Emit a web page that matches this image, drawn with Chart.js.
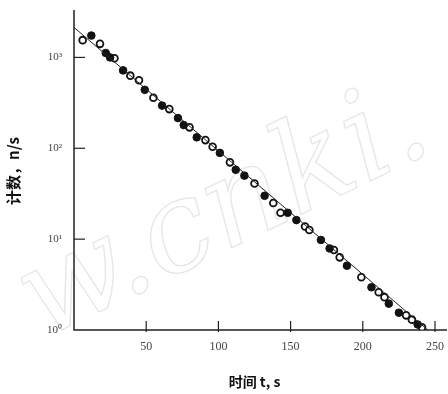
<!DOCTYPE html>
<html>
<head>
<meta charset="utf-8">
<script src="https://cdn.jsdelivr.net/npm/chart.js@4/dist/chart.umd.min.js"></script>
<style>
  html, body { margin: 0; padding: 0; background: #fff; }
  #wrap { width: 448px; height: 394px; }
</style>
</head>
<body>
<div id="wrap"><canvas id="myChart" width="448" height="394"></canvas></div>
<script>
// time (s) and count rate (n/s)
const timeFilled = [12, 22, 25, 34, 49, 61, 72, 76, 85, 101, 112, 118, 132, 148, 154, 171, 177, 189, 206, 218, 225, 238];
const countFilled = [1740, 1120, 1000, 720, 440, 295, 215, 180, 132, 89, 58, 50, 30, 19.5, 16.2, 9.8, 7.9, 5.1, 2.95, 1.95, 1.55, 1.15];

const timeOpen = [6, 18, 28, 39, 45, 55, 66, 80, 91, 96, 108, 125, 138, 143, 160, 163, 180, 184, 199, 211, 215, 230, 234, 241];
const countOpen = [1550, 1410, 980, 630, 560, 360, 270, 170, 123, 104, 70, 41, 25, 19.5, 13.8, 12.6, 7.6, 6.3, 3.8, 2.6, 2.3, 1.45, 1.3, 1.07];

// fitted line end points
const fitTime = [0, 245];
const fitCount = [2140, 1];

const yTicks = [1, 10, 100, 1000];
const yTickLabels = ['10⁰', '10¹', '10²', '10³'];
const xTicks = [50, 100, 150, 200, 250];

const toPts = (xs, ys) => xs.map((x, i) => ({ x: x, y: ys[i] }));

// inward tick marks + faint watermark
const decor = {
  id: 'decor',
  beforeDatasetsDraw(chart) {
    const c = chart.ctx;
    const a = chart.chartArea;
    c.save();
    c.translate(225, 215);
    c.rotate(-0.45);
    c.font = 'italic 125px "DejaVu Serif"';
    c.strokeStyle = 'rgba(205,205,205,0.5)';
    c.lineWidth = 1.3;
    c.textAlign = 'center';
    c.textBaseline = 'middle';
    c.strokeText('w.cnki.', 0, 0);
    c.restore();

    c.save();
    c.strokeStyle = '#222';
    c.lineWidth = 1.2;
    const xs = chart.scales.x, ys = chart.scales.y;
    xTicks.forEach(v => {
      const px = xs.getPixelForValue(v);
      c.beginPath(); c.moveTo(px, a.bottom + 2); c.lineTo(px, a.bottom - 9); c.stroke();
    });
    yTicks.slice(1).forEach(v => {
      const py = ys.getPixelForValue(v);
      c.beginPath(); c.moveTo(a.left, py); c.lineTo(a.left + 11, py); c.stroke();
    });
    // axis lines
    c.lineWidth = 1.5;
    c.beginPath();
    c.moveTo(a.left, a.top - 2); c.lineTo(a.left, a.bottom);
    c.lineTo(a.right + 12, a.bottom);
    c.stroke();
    c.restore();
  }
};

const ctx = document.getElementById('myChart').getContext('2d');
const myChart = new Chart(ctx, {
  type: 'scatter',
  data: {
    datasets: [
      {
        label: 'fit',
        type: 'line',
        data: toPts(fitTime, fitCount),
        borderColor: '#222',
        borderWidth: 1,
        pointRadius: 0,
      },
      {
        label: 'filled',
        data: toPts(timeFilled, countFilled),
        backgroundColor: '#111',
        borderColor: '#111',
        pointRadius: 3.8,
      },
      {
        label: 'open',
        data: toPts(timeOpen, countOpen),
        backgroundColor: '#fff',
        borderColor: '#111',
        borderWidth: 1.8,
        pointRadius: 3.4,
      },
    ],
  },
  options: {
    responsive: false,
    animation: false,
    layout: { padding: { top: 12, right: 13, left: 0, bottom: 0 } },
    plugins: { legend: { display: false }, tooltip: { enabled: false } },
    scales: {
      x: {
        type: 'linear',
        min: 0,
        max: 250,
        border: { display: false },
        grid: { display: false },
        afterBuildTicks: s => { s.ticks = xTicks.map(v => ({ value: v })); },
        afterFit: s => { s.height = 64; },
        ticks: {
          color: '#444',
          padding: 2,
          font: { family: '"Liberation Serif", serif', size: 12 },
        },
        title: {
          display: true,
          text: '时间 t, s',
          color: '#111',
          padding: { top: 16 },
          font: { family: '"Noto Sans CJK SC", serif', size: 14, weight: 'bold' },
        },
      },
      y: {
        type: 'logarithmic',
        min: 1,
        max: 3162,
        border: { display: false },
        grid: { display: false },
        afterBuildTicks: s => { s.ticks = yTicks.map(v => ({ value: v })); },
        afterFit: s => { s.width = 74; },
        ticks: {
          color: '#444',
          padding: 4,
          font: { family: '"Liberation Serif", serif', size: 11 },
          callback: v => yTickLabels[yTicks.indexOf(v)],
        },
        title: {
          display: true,
          text: '计数，n/s',
          color: '#111',
          padding: { bottom: 8 },
          font: { family: '"Noto Sans CJK SC", serif', size: 15, weight: 'bold' },
        },
      },
    },
  },
  plugins: [decor],
});
</script>
</body>
</html>
